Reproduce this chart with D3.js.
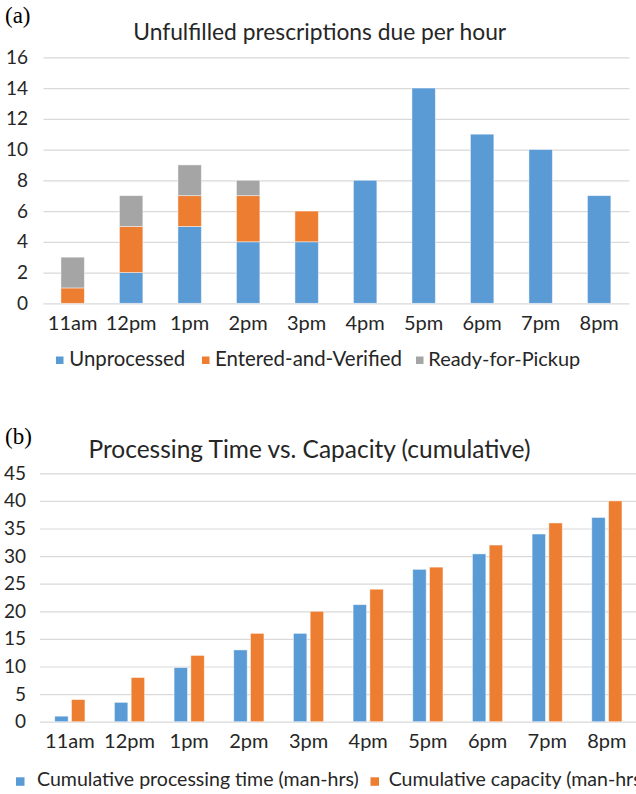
<!DOCTYPE html>
<html>
<head>
<meta charset="utf-8">
<script src="https://cdn.jsdelivr.net/npm/d3@7"></script>
<style>
  html, body { margin: 0; padding: 0; background: #fff; }
  svg { display: block; }
  text { font-family: Lato, "Open Sans", sans-serif; fill: #262626; }
</style>
</head>
<body>
<svg id="chart" width="636" height="794"></svg>
<script>
// Hours of the day shared by both panels
const hours = ["11am", "12pm", "1pm", "2pm", "3pm", "4pm", "5pm", "6pm", "7pm", "8pm"];

// Panel (a): unfulfilled prescriptions due per hour, by status
const unprocessed     = [0, 2, 5, 4, 4, 8, 14, 11, 10, 7];
const enteredVerified = [1, 3, 2, 3, 2, 0, 0, 0, 0, 0];
const readyForPickup  = [2, 2, 2, 1, 0, 0, 0, 0, 0, 0];
const statusNames = ["Unprocessed", "Entered-and-Verified", "Ready-for-Pickup"];
const ticksA = [0, 2, 4, 6, 8, 10, 12, 14, 16];

// Panel (b): cumulative processing time vs. cumulative capacity
const cumProcessing = [1, 3.5, 9.8, 13, 16, 21.2, 27.6, 30.4, 34, 37];
const cumCapacity   = [4, 8, 12, 16, 20, 24, 28, 32, 36, 40];
const seriesNamesB = ["Cumulative processing time (man-hrs)", "Cumulative capacity (man-hrs)"];
const ticksB = [0, 5, 10, 15, 20, 25, 30, 35, 40, 45];

const colors = ["#5B9BD5", "#ED7D31", "#A5A5A5"];
const gridColor = "#d9d9d9";

const svg = d3.select("#chart");
svg.append("rect").attr("width", 636).attr("height", 794).attr("fill", "#fff");

// Scale a text's font size so that it spans the given width
function fitWidth(sel, w) {
  const len = sel.node().getComputedTextLength();
  const fs = parseFloat(sel.attr("font-size"));
  sel.attr("font-size", (fs * w / len).toFixed(2));
  return sel;
}

function panelLabel(txt, x, y) {
  svg.append("text").attr("x", x).attr("y", y)
    .attr("font-size", 23).style("font-family", "'Liberation Serif', 'DejaVu Serif', serif")
    .style("fill", "#000").text(txt);
}

function title(txt, cx, y, w) {
  const t = svg.append("text").attr("x", cx).attr("y", y)
    .attr("text-anchor", "middle").attr("font-size", 22).text(txt);
  fitWidth(t, w);
}

function yGrid(g, y, ticks, x0, x1, pad) {
  const axis = d3.axisLeft(y).tickValues(ticks).tickSize(-(x1 - x0)).tickPadding(pad);
  const ga = g.append("g").attr("transform", `translate(${x0},0)`).call(axis);
  ga.select(".domain").remove();
  ga.selectAll(".tick line").attr("stroke", gridColor).attr("stroke-width", 1.2);
  ga.selectAll(".tick text").attr("font-size", 19).attr("font-family", null)
    .style("fill", "#262626");
  return ga;
}

function xLabels(g, x, yBase, offset) {
  const axis = d3.axisBottom(x).tickSize(0).tickPadding(0);
  const ga = g.append("g").attr("transform", `translate(0,${yBase})`).call(axis);
  ga.select(".domain").remove();
  ga.selectAll(".tick line").remove();
  ga.selectAll(".tick text").attr("y", offset).attr("dy", 0)
    .attr("font-size", 20).attr("font-family", null).style("fill", "#262626");
}

// ---------- Panel (a): stacked bars ----------
{
  const x0 = 43.4, x1 = 628.4, yb = 303.3, yt = 57.3;
  const g = svg.append("g");
  panelLabel("(a)", 5, 23);
  title("Unfulfilled prescriptions due per hour", 319.7, 39.7, 373);

  const x = d3.scaleBand().domain(hours).range([x0, x1]).paddingInner(0.6).paddingOuter(0.3);
  const y = d3.scaleLinear().domain([0, 16]).range([yb, yt]);
  yGrid(g, y, ticksA, x0, x1 + 1, 15.4);

  const rows = hours.map((h, i) => ({
    hour: h,
    [statusNames[0]]: unprocessed[i],
    [statusNames[1]]: enteredVerified[i],
    [statusNames[2]]: readyForPickup[i]
  }));
  const stacked = d3.stack().keys(statusNames)(rows);

  g.selectAll("g.layer").data(stacked).join("g").attr("class", "layer")
    .attr("fill", (d, i) => colors[i])
    .selectAll("rect").data(d => d.filter(p => p[1] > p[0])).join("rect")
    .attr("x", d => x(d.data.hour))
    .attr("width", x.bandwidth())
    .attr("y", d => y(d[1]))
    .attr("height", d => y(d[0]) - y(d[1]))
    .attr("stroke", "rgba(255,255,255,0.55)").attr("stroke-width", 0.8);

  xLabels(g, x, yb, 26.5);

  // legend
  const lx = [56, 202, 416], tx = [69.3, 215, 428.3], tw = [116, 187, 152];
  statusNames.forEach((name, i) => {
    g.append("rect").attr("x", lx[i]).attr("y", 356.5).attr("width", 7.5).attr("height", 7.5)
      .attr("fill", colors[i]);
    const t = g.append("text").attr("x", tx[i]).attr("y", 366).attr("font-size", 20).text(name);
    fitWidth(t, tw[i]);
  });
}

// ---------- Panel (b): grouped bars ----------
{
  const x0 = 40, x1 = 636.7, yb = 721.7, yt = 473.3;
  const g = svg.append("g");
  panelLabel("(b)", 5, 443.5);
  title("Processing Time vs. Capacity (cumulative)", 309.5, 457.7, 442);

  const x = d3.scaleBand().domain(hours).range([x0, x1]).paddingInner(0.494).paddingOuter(0.247);
  const xs = d3.scaleBand().domain(seriesNamesB).range([0, x.bandwidth()]).paddingInner(0.2);
  const y = d3.scaleLinear().domain([0, 45]).range([yb, yt]);
  yGrid(g, y, ticksB, x0, x1, 14);

  const values = [cumProcessing, cumCapacity];
  seriesNamesB.forEach((name, s) => {
    g.append("g").attr("fill", colors[s])
      .selectAll("rect").data(hours).join("rect")
      .attr("x", h => x(h) + xs(name))
      .attr("width", xs.bandwidth())
      .attr("y", (h, i) => y(values[s][i]))
      .attr("height", (h, i) => yb - y(values[s][i]))
      .attr("stroke", "rgba(255,255,255,0.55)").attr("stroke-width", 0.8);
  });

  xLabels(g, x, yb, 26.6);

  // legend (runs past the right edge of the figure)
  const t0 = g.append("text").attr("x", 37).attr("y", 785.7).attr("font-size", 20).text(seriesNamesB[0]);
  fitWidth(t0, 322);
  const fs = t0.attr("font-size");
  g.append("rect").attr("x", 16).attr("y", 777.3).attr("width", 8.5).attr("height", 8.5).attr("fill", colors[0]);
  g.append("rect").attr("x", 370.5).attr("y", 777.3).attr("width", 8.5).attr("height", 8.5).attr("fill", colors[1]);
  g.append("text").attr("x", 388.7).attr("y", 785.7).attr("font-size", fs).text(seriesNamesB[1]);
}
</script>
</body>
</html>
